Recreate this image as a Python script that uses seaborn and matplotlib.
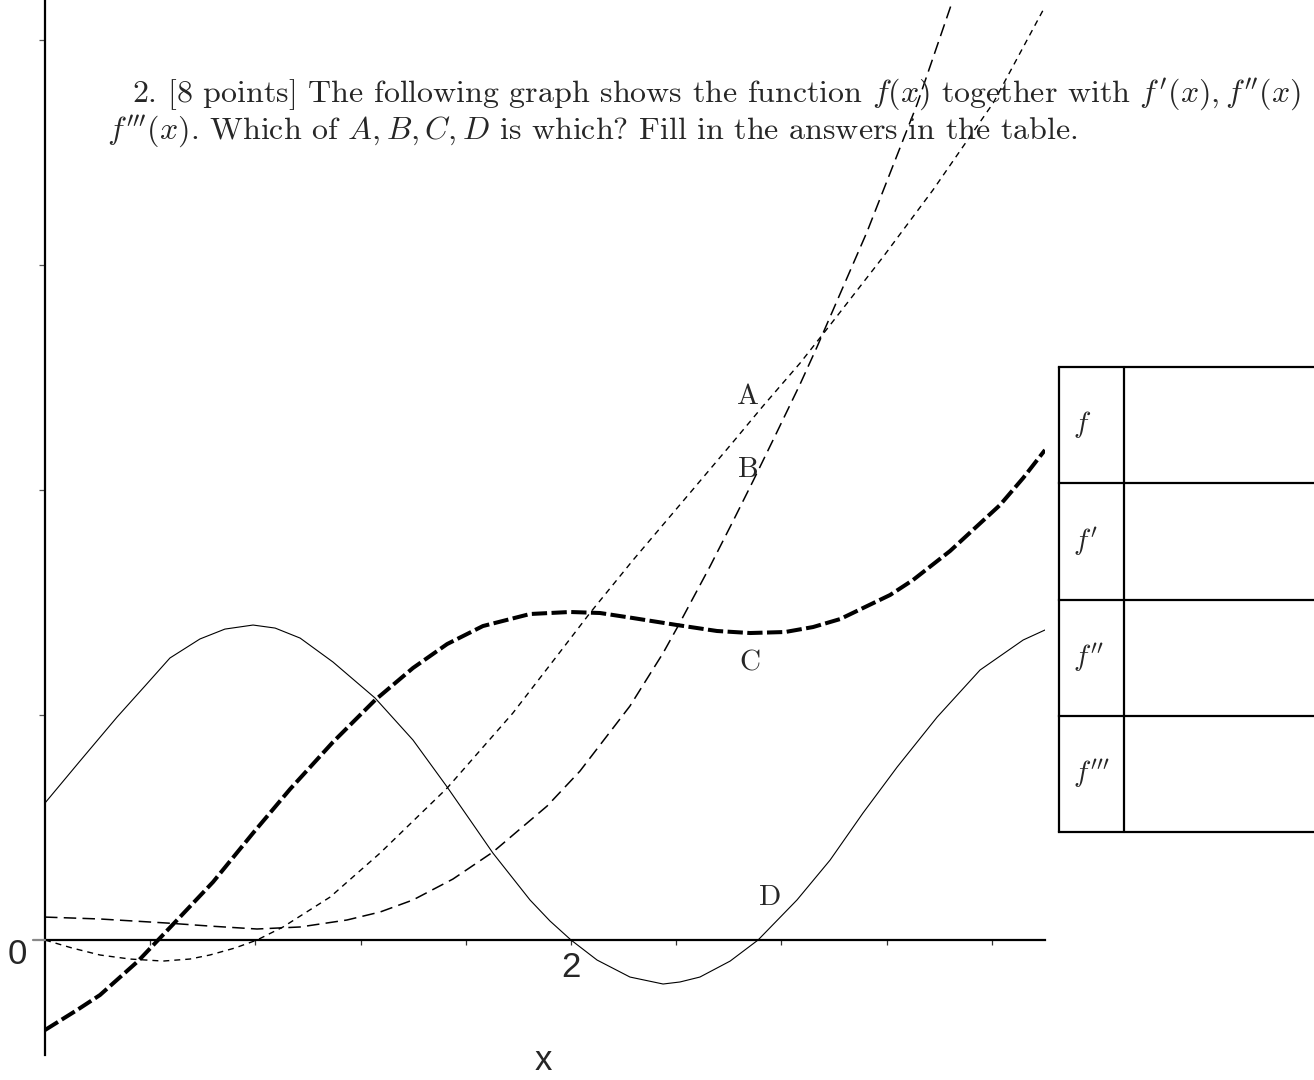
import matplotlib
matplotlib.use('Agg')
import matplotlib.pyplot as plt
import pandas as pd
import seaborn as sns


# curve samples (plot units)
a_x = [0.000, 0.103, 0.209, 0.323, 0.449, 0.551, 0.627, 0.722, 0.806, 0.905, 1.084,
       1.274, 1.529, 1.779, 1.958, 2.072, 2.236, 2.426, 2.616, 2.730, 2.871, 2.985,
       3.186, 3.376, 3.605, 3.795]
a_y = [0.0, -0.071, -0.133, -0.169, -0.187, -0.169, -0.133, -0.071, 0.0, 0.116, 0.382,
       0.773, 1.351, 2.018, 2.560, 2.907, 3.378, 3.902, 4.427, 4.747, 5.129, 5.467,
       6.071, 6.667, 7.440, 8.267]

b_x = [0.000, 0.209, 0.464, 0.627, 0.806, 0.970, 1.148, 1.274, 1.399, 1.551, 1.703,
       1.909, 2.034, 2.224, 2.350, 2.407, 2.529, 2.616, 2.692, 2.783, 2.871, 2.935,
       3.125, 3.316, 3.449]
b_y = [0.204, 0.187, 0.151, 0.124, 0.098, 0.116, 0.178, 0.249, 0.356, 0.542, 0.782,
       1.191, 1.502, 2.080, 2.551, 2.791, 3.324, 3.724, 4.080, 4.516, 4.942, 5.271,
       6.293, 7.431, 8.338]

c_x = [0.000, 0.122, 0.209, 0.354, 0.430, 0.513, 0.639, 0.791, 0.932, 1.095, 1.255,
       1.399, 1.529, 1.665, 1.844, 1.996, 2.110, 2.236, 2.403, 2.555, 2.681, 2.814,
       2.920, 3.023, 3.110, 3.213, 3.300, 3.441, 3.631, 3.719, 3.802]
c_y = [-0.800, -0.622, -0.489, -0.187, 0.0, 0.204, 0.516, 0.951, 1.342, 1.760, 2.133,
       2.418, 2.631, 2.791, 2.898, 2.916, 2.907, 2.862, 2.800, 2.747, 2.729, 2.738,
       2.782, 2.853, 2.951, 3.067, 3.200, 3.458, 3.867, 4.107, 4.356]

d_x = [0.000, 0.133, 0.274, 0.380, 0.475, 0.589, 0.684, 0.791, 0.875, 0.970, 1.095,
       1.255, 1.399, 1.529, 1.616, 1.703, 1.844, 1.920, 2.000, 2.099, 2.224, 2.350,
       2.414, 2.490, 2.605, 2.711, 2.859, 2.985, 3.110, 3.240, 3.392, 3.555, 3.719,
       3.802]
d_y = [1.218, 1.591, 1.982, 2.258, 2.507, 2.676, 2.764, 2.800, 2.773, 2.684, 2.471,
       2.151, 1.778, 1.360, 1.067, 0.773, 0.356, 0.169, 0.0, -0.178, -0.329, -0.391,
       -0.373, -0.329, -0.187, 0.0, 0.356, 0.711, 1.129, 1.538, 1.982, 2.400, 2.667,
       2.756]

x_ticks = [0.4, 0.8, 1.2, 1.6, 2.0, 2.4, 2.8, 3.2, 3.6]
x_tick_labels = ['', '', '', '', '2', '', '', '', '']
y_ticks = [2, 4, 6, 8]

curve_names = ['A', 'B', 'C', 'D']
table_rows = ['$f$', r'$f^{\prime}$', r'$f^{\prime\prime}$', r'$f^{\prime\prime\prime}$']

line1 = (r"2. [8 points] The following graph shows the function $f(x)$ together with "
         r"$f^{\prime}(x), f^{\prime\prime}(x)$ and")
line2 = (r"$f^{\prime\prime\prime}(x)$. Which of $A, B, C, D$ is which? "
         r"Fill in the answers in the table.")


def main():
    sns.set_style('white')
    plt.rcParams['mathtext.fontset'] = 'cm'
    plt.rcParams['lines.scale_dashes'] = False
    plt.rcParams['axes.unicode_minus'] = False

    fig = plt.figure(figsize=(13.14, 10.8), dpi=100)
    ax = fig.add_axes([45 / 1314, 25 / 1080, 1000 / 1314, 1055 / 1080])

    curves = {
        'A': (a_x, a_y, dict(lw=1.0, linestyle=(0, (4.3, 3.6)))),
        'B': (b_x, b_y, dict(lw=1.1, linestyle=(0, (9, 4.5)))),
        'C': (c_x, c_y, dict(lw=2.9, linestyle=(0, (11, 3.2)))),
        'D': (d_x, d_y, dict(lw=0.8, linestyle='-')),
    }
    for name in curve_names:
        xs, ys, style = curves[name]
        df = pd.DataFrame({'x': xs, 'y': ys})
        sns.lineplot(data=df, x='x', y='y', ax=ax, color='black',
                     errorbar=None, sort=False, **style)

    ax.set_xlim(0, 3.802)
    ax.set_ylim(-1.022, 8.356)
    for side in ['top', 'right']:
        ax.spines[side].set_visible(False)
    ax.spines['left'].set_linewidth(1.6)
    ax.spines['left'].set_color('black')
    ax.spines['bottom'].set_position(('data', 0))
    ax.spines['bottom'].set_linewidth(1.6)
    ax.spines['bottom'].set_color('black')
    ax.set_xticks(x_ticks, x_tick_labels, fontsize=25, family='Liberation Sans')
    ax.set_yticks(y_ticks, [''] * len(y_ticks))
    ax.tick_params(axis='x', bottom=True, direction='out', length=3.6, width=0.9,
                   color='#333333', pad=4)
    ax.tick_params(axis='y', left=True, direction='out', length=4.3, width=0.9,
                   color='#555555')
    ax.set_xlabel('')
    ax.set_ylabel('')
    ax.set_facecolor('none')

    # overlay in pixel units for the text, labels and the answer table
    ov = fig.add_axes([0, 0, 1, 1], zorder=5)
    ov.set_xlim(0, 1314)
    ov.set_ylim(1080, 0)
    ov.axis('off')
    ov.patch.set_alpha(0)

    ov.plot([33, 45], [940, 940], color='#888888', lw=1.6)
    ov.text(17, 955, '0', fontsize=25, family='Liberation Sans', ha='center', va='center')
    ov.text(543, 1060, 'x', fontsize=25, family='Liberation Sans', ha='center', va='center')

    label_pos = {'A': (748, 397), 'B': (748, 470), 'C': (750, 663), 'D': (770, 898)}
    for name in curve_names:
        px, py = label_pos[name]
        ov.text(px, py, name, fontsize=21, family='cmr10', ha='center', va='center')

    ov.text(132, 103, line1, fontsize=23, family='cmr10', ha='left', va='baseline')
    ov.text(107, 140, line2, fontsize=23, family='cmr10', ha='left', va='baseline')

    # answer table
    row_edges = [367, 483, 600, 716, 832]
    for y in row_edges:
        ov.plot([1059, 1330], [y, y], color='black', lw=1.6, solid_capstyle='projecting')
    ov.plot([1059, 1059], [row_edges[0], row_edges[-1]], color='black', lw=1.6)
    ov.plot([1124, 1124], [row_edges[0], row_edges[-1]], color='black', lw=1.6)
    for i, lab in enumerate(table_rows):
        yc = (row_edges[i] + row_edges[i + 1]) / 2
        ov.text(1073, yc, lab, fontsize=21, ha='left', va='center')

    fig.savefig('out.png', dpi=100)


if __name__ == "__main__":
    main()
